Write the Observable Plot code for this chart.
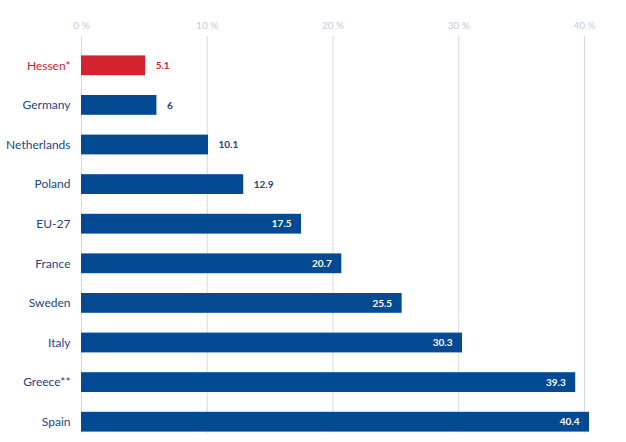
<!DOCTYPE html>
<html>
<head>
<meta charset="utf-8">
<script src="https://cdn.jsdelivr.net/npm/d3@7"></script>
<script src="https://cdn.jsdelivr.net/npm/@observablehq/plot@0.6"></script>
<style>
  body { margin: 0; background: #fff; }
  #chart svg { display: block; }
</style>
</head>
<body>
<div id="chart"></div>
<script>
const countries = ["Hessen*", "Germany", "Netherlands", "Poland", "EU-27", "France", "Sweden", "Italy", "Greece**", "Spain"];
const values = [5.1, 6, 10.1, 12.9, 17.5, 20.7, 25.5, 30.3, 39.3, 40.4];
const xTicks = [0, 10, 20, 30, 40];

const BLUE = "#034a93";
const RED = "#d4232e";
const data = countries.map((c, i) => ({country: c, value: values[i], highlight: c === "Hessen*"}));
const insideThreshold = 15;

const chart = Plot.plot({
  width: 626,
  height: 442,
  marginTop: 36,
  marginBottom: 9,
  marginLeft: 81,
  marginRight: 42,
  style: {fontFamily: "Lato, 'Open Sans', sans-serif", background: "#fff"},
  x: {domain: [0, 40], axis: "top", ticks: xTicks, tickFormat: d => d + " %", tickSize: 0, tickPadding: 8, label: null},
  y: {domain: countries, axis: null, range: [45.5, 441.5], paddingInner: 0.5, paddingOuter: 0.25, round: false},
  marks: [
    Plot.gridX(xTicks, {stroke: "#d6daea", strokeOpacity: 1, strokeWidth: 1}),
    Plot.barX(data, {x: "value", y: "country", fill: d => d.highlight ? RED : BLUE}),
    Plot.text(data, {x: 0, y: "country", text: "country", textAnchor: "end", dx: -11, fontSize: 12,
      fill: d => d.highlight ? RED : "#23467f"}),
    Plot.text(data.filter(d => d.value < insideThreshold), {x: "value", y: "country", text: d => String(d.value),
      textAnchor: "start", dx: 10, fontSize: 10, fontWeight: "bold", fill: d => d.highlight ? RED : "#23467f"}),
    Plot.text(data.filter(d => d.value >= insideThreshold), {x: "value", y: "country", text: d => String(d.value),
      textAnchor: "end", dx: -10, fontSize: 10, fontWeight: "bold", fill: "#fff"})
  ]
});
chart.querySelectorAll("g[aria-label='x-axis tick label']").forEach(el => {
  el.setAttribute("fill", "#c3cadd");
  el.setAttribute("font-size", "10");
});
document.getElementById("chart").appendChild(chart);
</script>
</body>
</html>
